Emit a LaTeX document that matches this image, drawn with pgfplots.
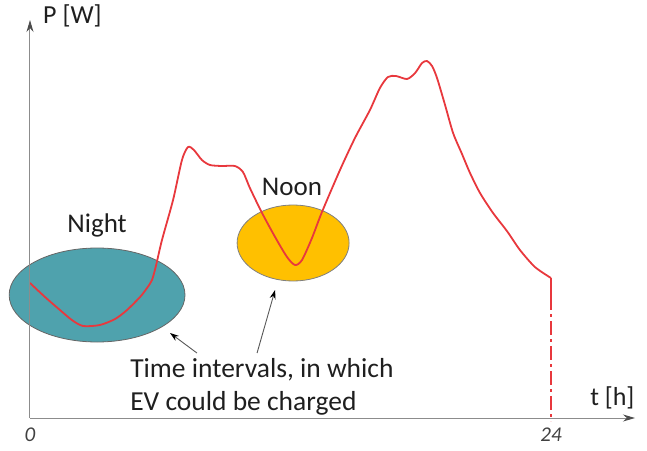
\documentclass[border=0pt]{standalone}
\usepackage{pgfplots}
\pgfplotsset{compat=1.18}
\usepackage{fontspec}
\setmainfont{Carlito}
\usetikzlibrary{arrows.meta}
\definecolor{curvered}{HTML}{E8383D}
\definecolor{nightteal}{HTML}{4FA2AD}
\definecolor{noonyellow}{HTML}{FFC000}
\definecolor{txt}{HTML}{1F1F1F}
\begin{document}
\begin{tikzpicture}
\useasboundingbox (-30pt,-32pt) rectangle (617pt,418pt);
\begin{axis}[
  at={(0pt,0pt)}, anchor=south west,
  scale only axis, width=605pt, height=398pt,
  xmin=0, xmax=27.87, ymin=0, ymax=398,
  enlargelimits=false, clip=false,
  axis lines=left, axis on top,
  axis line style={draw=gray!90, line width=1pt, -{Stealth[length=12pt,width=7pt,black!70]}},
  xtick={0,24}, xticklabels={\textit{0},\textit{24}},
  ytick=\empty,
  major tick length=0pt,
  x tick label style={font=\fontsize{21}{24}\selectfont, text=txt!85, anchor=north, yshift=-6pt},
]
% charging windows
\draw[draw=black!60, line width=0.8pt, fill=nightteal] (axis cs:3.09,123) ellipse [x radius=4.05, y radius=47];
\draw[draw=black!50, line width=0.8pt, fill=noonyellow] (axis cs:12.12,175) ellipse [x radius=2.58, y radius=38];
% load profile
\addplot[color=curvered, line width=1.8pt, line join=round, mark=none, smooth, tension=0.45] coordinates {
(0,135) (0.69,121) (1.38,108) (1.93,98) (2.44,92) (3.22,93) (3.92,99) (4.47,108)
(5.07,121) (5.39,130) (5.62,138) (5.80,152) (6.08,178) (6.59,218) (7.00,258)
(7.28,271) (7.55,268) (7.92,258) (8.29,253) (8.84,252) (9.44,252) (9.81,246)
(10.13,230) (10.69,205) (11.29,181) (11.84,161) (12.21,153) (12.53,158) (12.99,180)
(13.45,206) (14.28,248) (14.97,280) (15.66,308) (16.12,330) (16.49,341) (16.86,342)
(17.37,339) (17.74,345) (18.06,355) (18.29,357) (18.52,352) (18.75,340) (19.12,313)
(19.49,285) (19.90,264) (20.27,245) (20.73,225) (21.33,205) (21.97,187) (22.57,168)
(23.26,151) (24.00,140)
};
\addplot[color=curvered, line width=1.8pt, mark=none] coordinates {(24.00,140) (24.00,122)};
\addplot[color=curvered, line width=1.8pt, dash pattern=on 14pt off 4pt on 3pt off 4pt, mark=none] coordinates {
(24.00,122) (24.00,-3)
};
% labels
\node[font=\fontsize{27}{32}\selectfont, text=txt] at (axis cs:3.09,193) {Night};
\node[font=\fontsize{27}{32}\selectfont, text=txt] at (axis cs:12.07,231) {Noon};
\node[font=\fontsize{27.5}{33}\selectfont, text=txt, align=left, anchor=west, inner sep=0pt] at (axis cs:4.61,31.5) {Time intervals, in which\\EV could be charged};
\draw[draw=black!65, line width=0.9pt, -{Stealth[length=9pt,width=6pt,black]}] (axis cs:7.69,65) -- (axis cs:6.45,85);
\draw[draw=black!65, line width=0.9pt, -{Stealth[length=9pt,width=6pt,black]}] (axis cs:10.46,65) -- (axis cs:11.29,128);
\node[font=\fontsize{26}{30}\selectfont, text=txt, anchor=west, inner sep=0pt] at (axis cs:0.6,402) {P [W]};
\node[font=\fontsize{26}{30}\selectfont, text=txt, anchor=west, inner sep=0pt] at (axis cs:25.8,20) {t [h]};
\end{axis}
\end{tikzpicture}
\end{document}
